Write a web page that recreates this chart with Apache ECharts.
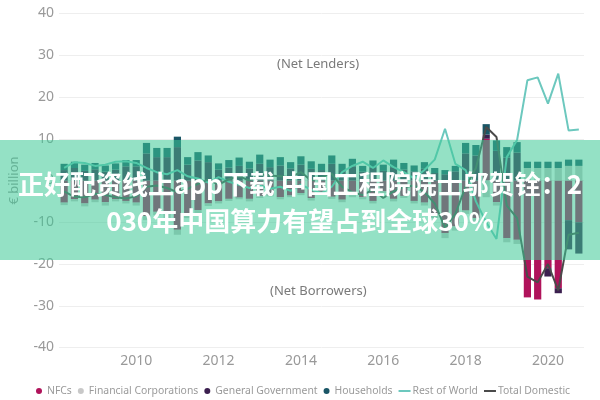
<!DOCTYPE html>
<html><head><meta charset="utf-8">
<script src="https://cdn.jsdelivr.net/npm/echarts@6/dist/echarts.min.js"></script>
<style>
html,body{margin:0;padding:0;background:#fff;}
#wrap{position:relative;width:600px;height:400px;overflow:hidden;}
#chart{width:600px;height:400px;}
#banner{position:absolute;left:0;top:140px;width:600px;height:120px;background:rgba(60,200,150,0.55);color:#fff;font-family:"Noto Sans CJK SC";font-weight:bold;font-size:26px;line-height:37px;text-align:center;padding-top:24px;box-sizing:border-box;white-space:nowrap;}
</style></head>
<body><div id="wrap"><div id="chart"></div><div id="banner">正好配资线上app下载 中国工程院院士邬贺铨：2<br>030年中国算力有望占到全球30%</div></div>
<script>
const categories = [
'2008 Q2','2008 Q3','2008 Q4',
'2009 Q1','2009 Q2','2009 Q3','2009 Q4',
'2010 Q1','2010 Q2','2010 Q3','2010 Q4',
'2011 Q1','2011 Q2','2011 Q3','2011 Q4',
'2012 Q1','2012 Q2','2012 Q3','2012 Q4',
'2013 Q1','2013 Q2','2013 Q3','2013 Q4',
'2014 Q1','2014 Q2','2014 Q3','2014 Q4',
'2015 Q1','2015 Q2','2015 Q3','2015 Q4',
'2016 Q1','2016 Q2','2016 Q3','2016 Q4',
'2017 Q1','2017 Q2','2017 Q3','2017 Q4',
'2018 Q1','2018 Q2','2018 Q3','2018 Q4',
'2019 Q1','2019 Q2','2019 Q3','2019 Q4',
'2020 Q1','2020 Q2','2020 Q3','2020 Q4'];
const tickLabels = ['2010','2012','2014','2016','2018','2020'];

const nfcs = [-5.3,-4.5,-5.5,-4.6,-5.2,-4.5,-4.9,-5.3,-8.5,-7.5,
 -8.1,-11.8,-8.2,-7.1,-5.5,-5.0,-4.4,-4.1,-4.4,-3.7,
 -3.4,-4.0,-3.6,-3.0,-4.2,-2.8,-3.9,-4.6,-3.5,-4.0,
 -4.9,-2.6,-4.4,-3.7,-4.9,-5.3,-8.1,-12.6,-11.0,-7.2,
 -9.0,10.0,-5.2,-13.8,-14.2,-28.0,-28.5,-21.0,-25.8,-9.5,-10.0];
const financialCorps = [-0.6,-0.5,-0.7,-0.6,-0.8,-0.5,-0.6,-0.7,-1.0,-0.8,
 -0.9,-1.2,-0.8,-0.7,-0.6,-0.5,-0.5,-0.4,-0.6,-0.5,
 -0.4,-0.5,-0.4,-0.5,-0.6,-0.4,-0.5,-0.6,-0.5,-0.5,
 -0.6,-0.4,-0.6,-0.5,-0.6,-0.7,-0.9,-1.2,-1.0,-0.8,
 -1.0,-4.0,-0.8,-1.0,-1.0,3.0,3.0,3.0,3.0,3.5,3.5];
const generalGov = [2.5,3.0,2.3,2.7,2.1,2.6,3.4,3.4,6.5,5.6,
 5.6,8.0,3.8,4.8,4.4,2.6,3.1,3.5,2.9,4.0,
 3.2,3.6,2.9,3.8,2.8,2.5,4.0,2.5,3.4,2.1,
 3.0,2.3,3.2,2.6,2.2,2.8,1.8,1.5,2.2,6.5,
 6.0,1.0,7.1,5.5,6.7,0,0,-2.0,-1.2,-7.0,-7.5];
const households = [1.5,1.5,1.5,1.5,1.5,1.5,1.5,1.5,2.5,2.2,
 2.2,2.5,1.8,2.0,1.6,1.5,1.8,2.0,1.6,2.2,
 1.8,2.0,1.5,2.0,1.8,1.5,2.0,1.5,1.8,1.4,
 1.8,1.5,1.8,1.6,1.4,1.6,1.2,1.0,1.3,2.5,
 2.5,2.5,2.5,2.5,2.5,1.5,1.5,1.5,1.5,1.5,1.5];
const restOfWorld = [3.0,4.4,4.2,3.5,3.8,4.5,4.6,4.2,3.0,2.0,
 1.5,2.5,1.0,0.5,-0.5,0.8,-0.3,-1.0,-1.8,-1.2,
 -2.0,-1.5,-2.5,-1.0,-2.2,-3.0,-1.5,2.0,3.5,4.5,
 3.0,4.8,3.2,2.0,0.5,2.5,5.0,12.4,4.0,2.5,
 -5.0,-10.0,-14.0,5.6,9.7,24.0,24.7,18.4,25.6,12.0,12.2];
const totalDomestic = [-2.6,-3.9,-4.0,-3.2,-3.5,-4.0,-4.3,-3.8,-1.5,-1.2,
 -1.8,-2.8,-2.0,-0.8,0.2,-1.0,0.3,1.0,0.0,1.5,
 1.2,1.0,0.8,2.0,0.0,0.8,1.6,-1.5,-2.8,-3.5,
 -2.2,-4.2,-2.6,-1.6,-1.2,-2.8,-5.5,-11.3,-8.0,-1.5,
 3.0,12.8,10.4,-6.0,-9.0,-23.0,-24.4,-20.0,-26.3,-13.0,-12.5];

const FONT = 'Noto Sans';
const LINE_ICON = 'path://M0,0h12v2h-12z';
const chart = echarts.init(document.getElementById('chart'), null, {renderer:'canvas'});
function barSeries(name, data, color){
  return {name, type:'bar', stack:'total', data, barCategoryGap:'30%',
    itemStyle:{color}, emphasis:{disabled:true}};
}
function lineSeries(name, data, color){
  return {name, type:'line', data, symbol:'none', showSymbol:false, z:5,
    lineStyle:{color, width:2}, itemStyle:{color}, emphasis:{disabled:true}};
}
chart.setOption({
  animation:false,
  textStyle:{fontFamily:FONT},
  grid:{left:55, right:16, top:13.5, bottom:52.5},
  legend:{
    left:31, top:381, itemWidth:12, itemHeight:6, itemGap:6,
    textStyle:{color:'#9a9a9a', fontSize:10.4, fontFamily:FONT, padding:[0,0,0,-3]},
    data:[
      {name:'NFCs', icon:'circle'},
      {name:'Financial Corporations', icon:'circle'},
      {name:'General Government', icon:'circle'},
      {name:'Households', icon:'circle'},
      {name:'Rest of World', icon:LINE_ICON},
      {name:'Total Domestic', icon:LINE_ICON}
    ]
  },
  xAxis:{
    type:'category', data:categories, boundaryGap:true,
    axisLine:{show:false}, axisTick:{show:false},
    axisLabel:{
      color:'#999', fontSize:14, margin:7, fontFamily:FONT,
      interval:(idx, val)=> tickLabels.indexOf(val.slice(0,4))>=0 && val.slice(5)==='Q1',
      formatter:(val)=> val.slice(0,4)
    }
  },
  yAxis:{
    type:'value', min:-40, max:40, interval:10,
    name:'€ billion', nameLocation:'middle', nameGap:38, nameRotate:90,
    nameTextStyle:{color:'#999', fontSize:13, fontFamily:FONT},
    axisLine:{show:false}, axisTick:{show:false},
    axisLabel:{color:'#999', fontSize:14, margin:5, fontFamily:FONT},
    splitLine:{lineStyle:{color:'#eeeeee', width:1}}
  },
  graphic:[
    {type:'text', left:277, top:58, style:{text:'(Net Lenders)', fill:'#7a7a7a', fontSize:13, fontFamily:FONT}},
    {type:'text', left:270, top:285, style:{text:'(Net Borrowers)', fill:'#7a7a7a', fontSize:13, fontFamily:FONT}}
  ],
  series:[
    barSeries('NFCs', nfcs, '#B0135B'),
    barSeries('Financial Corporations', financialCorps, '#C8C8C8'),
    barSeries('General Government', generalGov, '#3B1F4F'),
    barSeries('Households', households, '#1A5666'),
    lineSeries('Rest of World', restOfWorld, '#6CC8BE'),
    lineSeries('Total Domestic', totalDomestic, '#4a4a4a')
  ]
});
</script></body></html>
